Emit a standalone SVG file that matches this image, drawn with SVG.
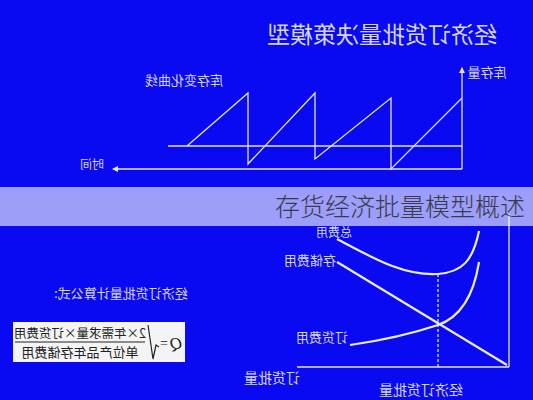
<svg xmlns="http://www.w3.org/2000/svg" width="533" height="400" viewBox="0 0 533 400">
<style>
.t{font-family:"Noto Sans CJK SC","Noto Sans",sans-serif;fill:#d4d4e6;}
.ln{stroke:#e4e4f4;stroke-width:1.3;fill:none;}
.cv{stroke:#ececf8;stroke-width:2.2;fill:none;}
.f{font-family:"Noto Sans CJK SC",sans-serif;fill:#222;}
</style>
<defs>
<marker id="ah" viewBox="0 0 6 6" refX="5" refY="3" markerWidth="5" markerHeight="5" orient="auto">
<path d="M0,0 L6,3 L0,6 z" fill="#e4e4f4"/>
</marker>
</defs>
<rect width="533" height="400" fill="#0a0af2"/>
<g transform="translate(533,0) scale(-1,1)">
  <g id="title"><text class="t" x="151" y="43" font-size="23" text-anchor="middle">经济订货批量决策模型</text></g>
  <g id="connectors">
    <path class="ln" d="M71,169 V68" marker-end="url(#ah)"/>
    <path class="ln" d="M71,169 H420" marker-end="url(#ah)"/>
    <path class="ln" d="M71,146 H365"/>
    <path class="ln" d="M71,98 L142,169 V98 L218,159 V93 L285,164 V93 L346,146"/>
    <path class="ln" d="M24,367 V214"/>
    <path class="ln" d="M24,367 H236"/>
    <path class="ln" d="M95,274 V367" stroke-dasharray="3,2"/>
    <path class="cv" d="M26,365 L196,262"/>
    <path class="cv" d="M54,231 C60,260 70,272 95,274 C130,276 160,258 196,239"/>
    <path class="cv" d="M54,262 C60,300 75,318 95,325 C125,335 155,341 183,345"/>
  </g>
  <g id="axis-top"><text class="t" x="46" y="77" font-size="13" text-anchor="middle">库存量</text></g>
  <g id="axis-time"><text class="t" x="441" y="169" font-size="12" text-anchor="middle">时间</text></g>
  <g id="curve-label"><text class="t" x="349" y="85" font-size="13" text-anchor="middle">库存变化曲线</text></g>
  <g id="total-cost"><text class="t" x="199" y="237" font-size="12" text-anchor="middle">总费用</text></g>
  <g id="storage-cost"><text class="t" x="223" y="265" font-size="13" text-anchor="middle">存储费用</text></g>
  <g id="order-cost"><text class="t" x="211" y="342" font-size="13" text-anchor="middle">订货费用</text></g>
  <g id="order-qty"><text class="t" x="261" y="383" font-size="14" text-anchor="middle">订货批量</text></g>
  <g id="eoq"><text class="t" x="112" y="395" font-size="14" text-anchor="middle">经济订货批量</text></g>
  <g id="formula-title"><text class="t" x="412" y="298" font-size="13" text-anchor="middle">经济订货批量计算公式:</text></g>
  <g id="formula">
    <rect x="348" y="322" width="172" height="40" fill="#f4f4f4"/>
    <text x="357" y="349" font-size="17" font-family="Liberation Serif,serif" font-style="italic" fill="#222" text-anchor="middle">Q</text>
    <text x="365" y="348" font-size="14" font-family="Liberation Serif,serif" fill="#222">=</text>
    <path d="M374,347 L377,345 L380,359 L385,325" stroke="#222" stroke-width="1.2" fill="none"/>
    <text class="f" x="453" y="338" font-size="12.5" text-anchor="middle">2×年需求量×订货费用</text>
    <line x1="388" y1="342" x2="518" y2="342" stroke="#222" stroke-width="1"/>
    <text class="f" x="453" y="357" font-size="13" text-anchor="middle">单位产品年存储费用</text>
  </g>
</g>
<g id="banner">
  <rect x="0" y="187" width="533" height="39" fill="#ffffff" fill-opacity="0.6"/>
  <text x="400" y="216" font-size="25" font-weight="300" font-family="Noto Sans CJK SC,sans-serif" fill="#3a3a4a" text-anchor="middle">存货经济批量模型概述</text>
</g>
</svg>
